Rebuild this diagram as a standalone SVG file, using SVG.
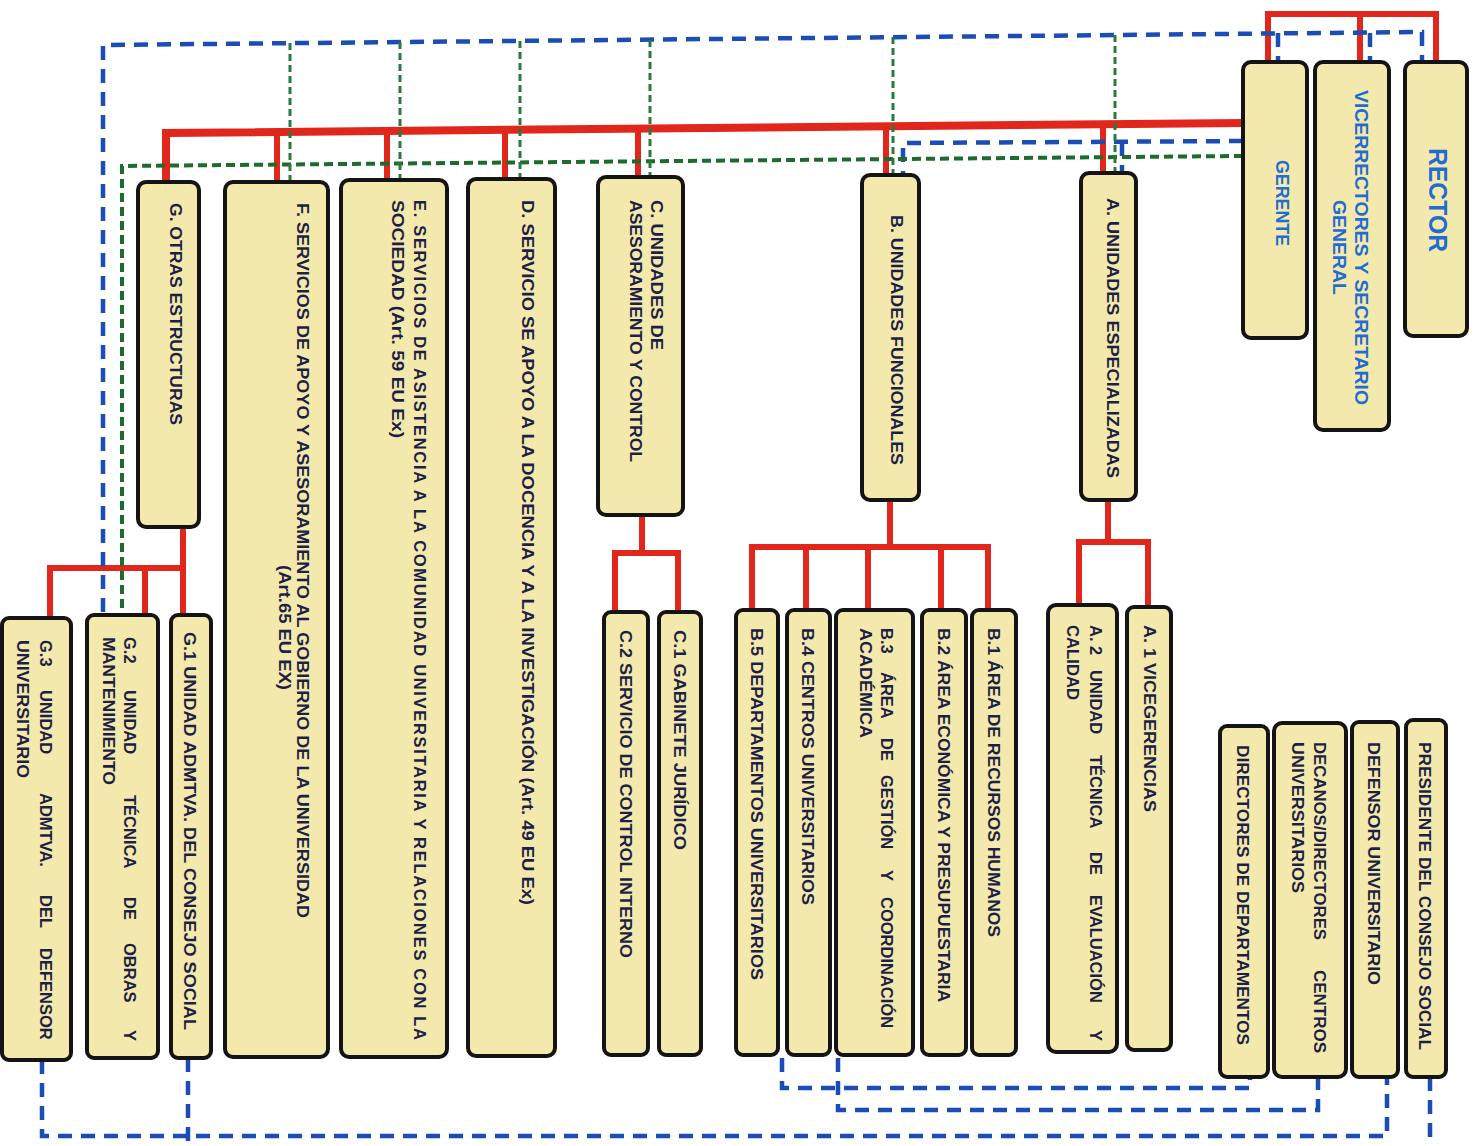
<svg xmlns="http://www.w3.org/2000/svg" width="1478" height="1146" viewBox="0 0 1478 1146">
<style>
.n{fill:#F4E9AC;stroke:#141414;stroke-width:4}
.t{font-family:"Liberation Sans",Arial,sans-serif;font-weight:bold;font-size:16.5px;fill:#1E1F45}
.tb{font-family:"Liberation Sans",Arial,sans-serif;font-weight:bold;fill:#1F6CD2}
.red{fill:none;stroke:#E1261C;stroke-width:6}
.bus{fill:none;stroke:#E1261C;stroke-width:8}
.blue{fill:none;stroke:#1A4DB5;stroke-width:4.5;stroke-dasharray:14 9}
.green{fill:none;stroke:#1E6B2E;stroke-width:4;stroke-dasharray:9 5}
.gv{fill:none;stroke:#2A7A3A;stroke-width:3;stroke-dasharray:7 4}
</style>
<rect width="1478" height="1146" fill="#ffffff"/>
<g id="connectors">
  <!-- top red -->
  <path class="red" d="M1268,62 V14 H1436 V62 M1360,14 V62"/>
  <!-- main red bus -->
  <path class="bus" d="M166,182 V133 L1244,123"/>
  <path class="red" d="M277,132 V182 M387,131 V180 M505,130 V179 M638,129 V177 M886,126 V175 M1103,124 V173"/>
  <!-- G children -->
  <path class="red" d="M183,527 V615 M50,618 V568 H183 M145,568 V615"/>
  <!-- C children -->
  <path class="red" d="M642,515 V553 M615,612 V553 H678 V612"/>
  <!-- B children -->
  <path class="red" d="M890,500 V547 M752,610 V547 H988 V610 M806,547 V610 M868,547 V610 M941,547 V610"/>
  <!-- A children -->
  <path class="red" d="M1108,500 V542 M1079,604 V542 H1148 V607"/>
  <!-- top blue -->
  <path class="blue" d="M103,612 V45 L1422,32 V62"/>
  <path class="blue" d="M1278,33 V62 M1370,33 V62"/>
  <!-- mid blue -->
  <path class="blue" d="M1243,141 L903,143 V175"/>
  <path class="blue" d="M1122,142 V173"/>
  <!-- green horizontal -->
  <path class="green" d="M1243,156 L122,166 V615"/>
  <!-- green verticals -->
  <path class="gv" d="M290,43 V182 M400,42 V180 M520,41 V179 M650,40 V177 M893,37 V175 M1115,35 V173"/>
  <!-- bottom blue -->
  <path class="blue" d="M782,1058 V1088 H1250 V1077"/>
  <path class="blue" d="M838,1058 V1110 H1318 V1077"/>
  <path class="blue" d="M42,1060 V1136 H1387 V1077"/>
  <path class="blue" d="M188,1058 V1146"/>
  <path class="blue" d="M1430,1077 V1146"/>
</g>
<g id="rector"><rect class="n" x="1405" y="62" width="62" height="274" rx="8"/><text class="tb" style="font-size:25px" transform="rotate(90)" x="148" y="-1429" textLength="104" lengthAdjust="spacingAndGlyphs">RECTOR</text></g>
<g id="vicerrectores"><rect class="n" x="1315" y="62" width="74" height="368" rx="8"/><text class="tb" style="font-size:19px" transform="rotate(90)"><tspan x="90" y="-1355" textLength="315" lengthAdjust="spacingAndGlyphs">VICERRECTORES Y SECRETARIO</tspan><tspan x="200" y="-1333" textLength="95" lengthAdjust="spacingAndGlyphs">GENERAL</tspan></text></g>
<g id="gerente"><rect class="n" x="1243" y="62" width="64" height="276" rx="8"/><text class="tb" style="font-size:18px" transform="rotate(90)" x="160" y="-1276" textLength="86" lengthAdjust="spacingAndGlyphs">GERENTE</text></g>

<g id="nodeA"><rect class="n" x="1081" y="173" width="55" height="327" rx="8"/><text class="t" transform="rotate(90)" x="198" y="-1107" textLength="280" lengthAdjust="spacingAndGlyphs">A. UNIDADES ESPECIALIZADAS</text></g>
<g id="nodeB"><rect class="n" x="862" y="175" width="57" height="325" rx="8"/><text class="t" transform="rotate(90)" x="215" y="-891" textLength="250" lengthAdjust="spacingAndGlyphs">B. UNIDADES FUNCIONALES</text></g>
<g id="nodeC"><rect class="n" x="598" y="177" width="85" height="338" rx="8"/><text class="t" transform="rotate(90)"><tspan x="200" y="-651" textLength="150" lengthAdjust="spacingAndGlyphs">C. UNIDADES DE</tspan><tspan x="200" y="-630" textLength="262" lengthAdjust="spacingAndGlyphs">ASESORAMIENTO Y CONTROL</tspan></text></g>
<g id="nodeD"><rect class="n" x="468" y="179" width="87" height="877" rx="8"/><text class="t" transform="rotate(90)" x="200" y="-522" textLength="705" lengthAdjust="spacingAndGlyphs">D. SERVICIO SE APOYO A LA DOCENCIA Y A LA INVESTIGACIÓN (Art. 49 EU Ex)</text></g>
<g id="nodeE"><rect class="n" x="341" y="180" width="106" height="877" rx="8"/><text class="t" transform="rotate(90)"><tspan x="200" y="-414" textLength="840" lengthAdjust="spacing">E. SERVICIOS DE ASISTENCIA A LA COMUNIDAD UNIVERSITARIA Y RELACIONES CON LA</tspan><tspan x="200" y="-392" textLength="238" lengthAdjust="spacingAndGlyphs">SOCIEDAD (Art. 59 EU Ex)</tspan></text></g>
<g id="nodeF"><rect class="n" x="225" y="182" width="103" height="875" rx="8"/><text class="t" transform="rotate(90)"><tspan x="203" y="-297" textLength="715" lengthAdjust="spacingAndGlyphs">F. SERVICIOS DE APOYO Y ASESORAMIENTO AL GOBIERNO DE LA UNIVERSIDAD</tspan><tspan x="565" y="-279" textLength="125" lengthAdjust="spacingAndGlyphs">(Art.65 EU EX)</tspan></text></g>
<g id="nodeG"><rect class="n" x="138" y="182" width="61" height="345" rx="8"/><text class="t" transform="rotate(90)" x="203" y="-170" textLength="222" lengthAdjust="spacingAndGlyphs">G. OTRAS ESTRUCTURAS</text></g>

<g id="nodeG1"><rect class="n" x="171" y="615" width="40" height="443" rx="7"/><text class="t" transform="rotate(90)" x="632" y="-184" textLength="398" lengthAdjust="spacingAndGlyphs">G.1 UNIDAD ADMTVA. DEL CONSEJO SOCIAL</text></g>
<g id="nodeG2"><rect class="n" x="87" y="615" width="71" height="443" rx="7"/><text class="t" transform="rotate(90)"><tspan x="637" y="-124">G.2</tspan><tspan x="690">UNIDAD</tspan><tspan x="795">TÉCNICA</tspan><tspan x="897">DE</tspan><tspan x="943">OBRAS</tspan><tspan x="1030">Y</tspan><tspan x="637" y="-103" textLength="148" lengthAdjust="spacingAndGlyphs">MANTENIMIENTO</tspan></text></g>
<g id="nodeG3"><rect class="n" x="2" y="618" width="69" height="442" rx="7"/><text class="t" transform="rotate(90)"><tspan x="640" y="-40">G.3</tspan><tspan x="690">UNIDAD</tspan><tspan x="793">ADMTVA.</tspan><tspan x="895">DEL</tspan><tspan x="948">DEFENSOR</tspan><tspan x="640" y="-17" textLength="138" lengthAdjust="spacingAndGlyphs">UNIVERSITARIO</tspan></text></g>

<g id="nodeC2"><rect class="n" x="604" y="612" width="44" height="443" rx="7"/><text class="t" transform="rotate(90)" x="630" y="-620" textLength="328" lengthAdjust="spacingAndGlyphs">C.2 SERVICIO DE CONTROL INTERNO</text></g>
<g id="nodeC1"><rect class="n" x="659" y="612" width="42" height="443" rx="7"/><text class="t" transform="rotate(90)" x="630" y="-674" textLength="220" lengthAdjust="spacingAndGlyphs">C.1 GABINETE JURÍDICO</text></g>

<g id="nodeB5"><rect class="n" x="736" y="610" width="42" height="445" rx="7"/><text class="t" transform="rotate(90)" x="628" y="-751" textLength="352" lengthAdjust="spacingAndGlyphs">B.5 DEPARTAMENTOS UNIVERSITARIOS</text></g>
<g id="nodeB4"><rect class="n" x="787" y="610" width="43" height="445" rx="7"/><text class="t" transform="rotate(90)" x="628" y="-802" textLength="277" lengthAdjust="spacingAndGlyphs">B.4 CENTROS UNIVERSITARIOS</text></g>
<g id="nodeB3"><rect class="n" x="836" y="610" width="77" height="445" rx="7"/><text class="t" transform="rotate(90)"><tspan x="628" y="-881">B.3</tspan><tspan x="672">ÁREA</tspan><tspan x="738">DE</tspan><tspan x="775">GESTIÓN</tspan><tspan x="870">Y</tspan><tspan x="897">COORDINACIÓN</tspan><tspan x="628" y="-860" textLength="110" lengthAdjust="spacingAndGlyphs">ACADÉMICA</tspan></text></g>
<g id="nodeB2"><rect class="n" x="922" y="610" width="44" height="445" rx="7"/><text class="t" transform="rotate(90)" x="628" y="-938" textLength="374" lengthAdjust="spacingAndGlyphs">B.2 ÁREA ECONÓMICA Y PRESUPUESTARIA</text></g>
<g id="nodeB1"><rect class="n" x="972" y="610" width="44" height="445" rx="7"/><text class="t" transform="rotate(90)" x="628" y="-988" textLength="309" lengthAdjust="spacingAndGlyphs">B.1 ÁREA DE RECURSOS HUMANOS</text></g>

<g id="nodeA2"><rect class="n" x="1048" y="605" width="69" height="447" rx="8"/><text class="t" transform="rotate(90)"><tspan x="625" y="-1090">A. 2</tspan><tspan x="670">UNIDAD</tspan><tspan x="755">TÉCNICA</tspan><tspan x="852">DE</tspan><tspan x="895">EVALUACIÓN</tspan><tspan x="1030">Y</tspan><tspan x="625" y="-1067" textLength="75" lengthAdjust="spacingAndGlyphs">CALIDAD</tspan></text></g>
<g id="nodeA1"><rect class="n" x="1127" y="607" width="44" height="443" rx="7"/><text class="t" transform="rotate(90)" x="625" y="-1144" textLength="187" lengthAdjust="spacingAndGlyphs">A. 1 VICEGERENCIAS</text></g>

<g id="directores"><rect class="n" x="1220" y="726" width="48" height="351" rx="7"/><text class="t" transform="rotate(90)" x="745" y="-1237" textLength="300" lengthAdjust="spacingAndGlyphs">DIRECTORES DE DEPARTAMENTOS</text></g>
<g id="decanos"><rect class="n" x="1274" y="723" width="72" height="354" rx="8"/><text class="t" transform="rotate(90)"><tspan x="742" y="-1314" textLength="198" lengthAdjust="spacingAndGlyphs">DECANOS/DIRECTORES</tspan><tspan x="970" textLength="83" lengthAdjust="spacingAndGlyphs">CENTROS</tspan><tspan x="742" y="-1292" textLength="151" lengthAdjust="spacingAndGlyphs">UNIVERSITARIOS</tspan></text></g>
<g id="defensor"><rect class="n" x="1352" y="722" width="46" height="355" rx="7"/><text class="t" transform="rotate(90)" x="742" y="-1368" textLength="243" lengthAdjust="spacingAndGlyphs">DEFENSOR UNIVERSITARIO</text></g>
<g id="presidente"><rect class="n" x="1406" y="720" width="40" height="357" rx="7"/><text class="t" transform="rotate(90)" x="742" y="-1419" textLength="308" lengthAdjust="spacingAndGlyphs">PRESIDENTE DEL CONSEJO SOCIAL</text></g>
</svg>
